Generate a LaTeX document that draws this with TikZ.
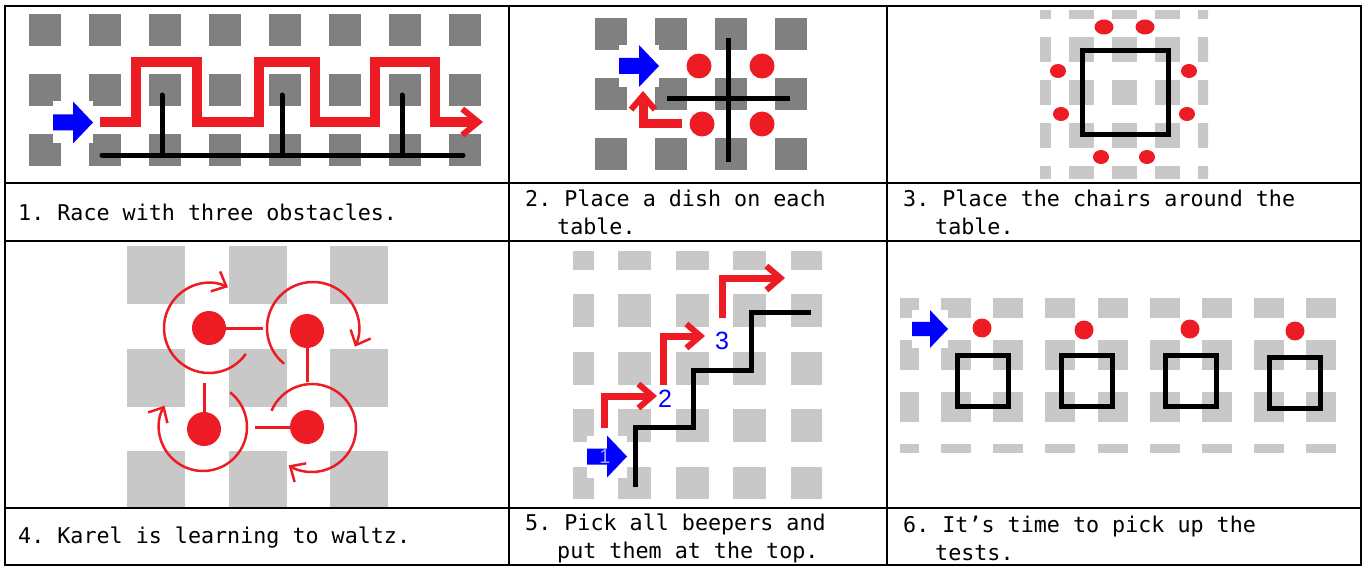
\documentclass[tikz,border=0pt]{standalone}
\usepackage{fontspec}
\setmonofont{DejaVu Sans Mono}
\newfontfamily\numfont{Liberation Sans}
\usetikzlibrary{arrows.meta}
\definecolor{kred}{RGB}{237,28,36}
\definecolor{kblue}{RGB}{0,0,255}
\definecolor{sqdark}{RGB}{128,128,128}
\definecolor{sqlight}{RGB}{200,200,200}
\tikzset{
  dsq/.style   ={fill=sqdark},
  lsq/.style   ={fill=sqlight},
  tline/.style ={line width=2pt},
  wall/.style  ={draw, line width=5pt},
  beeper/.style={fill=kred},
  rpath/.style ={draw=kred, line width=10pt, -{Straight Barb[line width=6pt,length=16pt,width=26pt]}},
  rstep/.style ={draw=kred, line width=7pt, -{Straight Barb[line width=6pt,length=14pt,width=24pt]}},
  turn/.style  ={draw=kred, line width=2.5pt, -{Straight Barb[length=12pt,width=22pt]}},
  stick/.style ={draw=kred, line width=3pt},
  dot/.style   ={circle, fill=kred, inner sep=0pt, minimum size=34pt},
  num/.style   ={font=\numfont\fontsize{25pt}{25pt}\selectfont, text=kblue, inner sep=0pt},
  txt/.style   ={anchor=west, align=left, inner sep=0pt, font=\ttfamily\fontsize{21.7pt}{28pt}\selectfont},
  karel/.pic   ={
    \fill[white] (-40,-21) rectangle (0,21);
    \fill[kblue] (-40,-8) rectangle (-20,8) (-20,-21) -- (0,0) -- (-20,21) -- cycle;
  }
}

\begin{document}
\begin{tikzpicture}[x=1pt,y=-1pt]
\useasboundingbox (0,0) rectangle (1365,567);

% 1
\foreach \i in {0,...,7}
  \foreach \j in {0,1,2}
    \fill[dsq] ({29+60*\i},{14+60*\j}) rectangle ++(32,32);
\pic at (93,122.5) {karel};
\draw[rpath] (100,122) -| (136,62) -| (197,122) -| (259,62) -| (315,122) -| (375,62) -| (435,122) -- (483,122);
\draw[wall, line cap=round] (102,155) -- (463,155);
\foreach \x in {162,282,402}
  \draw[wall, line cap=round] (\x,155) -- (\x,95);

% 2
\foreach \i in {0,...,3}
  \foreach \j in {0,1,2}
    \fill[dsq] ({595+60*\i},{18+60*\j}) rectangle ++(32,32);
\pic at (659,66) {karel};
\foreach \p in {(699,66),(762,66),(702,124),(762,124)}
  \fill[beeper] \p circle[radius=12.5pt];
\draw[wall] (728,38) -- (728,162) (667,99) -- (790,99);
\draw[rstep, line width=9pt] (682,124) -| (643,91);

% 3
\begin{scope}
  \clip (1040,11) rectangle (1208,178);
  \foreach \i in {0,...,4}
    \foreach \j in {0,...,4}
      \fill[lsq] ({1026+43*\i},{-6+43*\j}) rectangle ++(25,25);
\end{scope}
\draw[wall] (1082.5,50.5) rectangle (1168.5,134.5);
\foreach \p in {(1104,27),(1145,27)}
  \fill[beeper] \p ellipse[x radius=9.5pt, y radius=7.5pt];
\foreach \p in {(1058,71),(1189,71),(1061,114),(1187,114),(1101,157),(1147,157)}
  \fill[beeper] \p ellipse[x radius=8pt, y radius=7pt];

% 4
\foreach \i in {0,1,2}
  \foreach \j in {0,1,2}
    \fill[lsq] ({127+101.5*\i},{246+102.5*\j}) rectangle ++(58,58);
\node[dot] (w1) at (209,328) {};
\node[dot] (w2) at (307,331) {};
\node[dot] (w3) at (204,429) {};
\node[dot] (w4) at (307,427) {};
\draw[stick] (w1) -- (263,328);
\draw[stick] (w2) -- (307,382);
\draw[stick] (w3) -- (204,383);
\draw[stick] (w4) -- (255,427);
\draw[turn] (209,328) ++(-35:45pt) arc[start angle=-35, end angle=-295, radius=45pt];
\draw[turn] (313,328) ++(231:46pt) arc[start angle=231, end angle=-24, radius=46pt];
\draw[turn] (312,428) ++(157:44pt) arc[start angle=157, end angle=-122, radius=44pt];
\draw[turn] (203,427) ++(52:44pt) arc[start angle=52, end angle=-209, radius=44pt];

% 5
\begin{scope}
  \clip (573,251) rectangle (822,498);
  \foreach \i in {0,...,4}
    \foreach \j in {0,...,4}
      \fill[lsq] ({560.5+57.5*\i},{236.5+57.5*\j}) rectangle ++(33,33);
\end{scope}
\pic at (627,456.5) {karel};
\node[num, text=kblue!35!white, font=\numfont\fontsize{20pt}{20pt}\selectfont] (n1) at (605,457) {1};
\draw[wall] (635,487) |- (693,427) |- (751,370) |- (811,312);
\draw[rstep] (604,428) |- (657,396);
\draw[rstep] (663,385) |- (705,336);
\draw[rstep] (722,318) |- (785,278);
\node[num] (n2) at (665,399) {2};
\node[num] (n3) at (722,341) {3};

% 6
\begin{scope}
  \clip (900,298) rectangle (1336,452);
  \foreach \i in {0,...,8}
    \foreach \j in {0,...,3}
      \fill[lsq] ({888.8+52.2*\i},{288+52*\j}) rectangle ++(30,30);
\end{scope}
\pic[scale=0.9] at (948,329) {karel};
\foreach \p in {(982,328),(1084,330),(1190,329),(1295,331)}
  \fill[beeper] \p circle[radius=9.5pt];
\foreach \x/\y in {957.5/355.5,1061.5/355.5,1165.5/355.5,1269.5/357.5}
  \draw[wall] (\x,\y) rectangle ++(51,51);

% table
\draw[tline] (5,6) rectangle (1361,565);
\draw[tline] (5,183) -- (1361,183) (5,241) -- (1361,241) (5,508) -- (1361,508);
\draw[tline] (509,6) -- (509,565) (887,6) -- (887,565);

\node[txt] (c1) at (18,212)  {1. Race with three obstacles.};
\node[txt] (c2) at (525,212) {2. Place a dish on each\\\hspace*{32pt}table.};
\node[txt] (c3) at (903,212) {3. Place the chairs around the\\\hspace*{32pt}table.};
\node[txt] (c4) at (18,538)  {4. Karel is learning to waltz.};
\node[txt] (c5) at (525,538) {5. Pick all beepers and\\\hspace*{32pt}put them at the top.};
\node[txt] (c6) at (903,538) {6. It’s time to pick up the\\\hspace*{32pt}tests.};
\end{tikzpicture}
\end{document}
